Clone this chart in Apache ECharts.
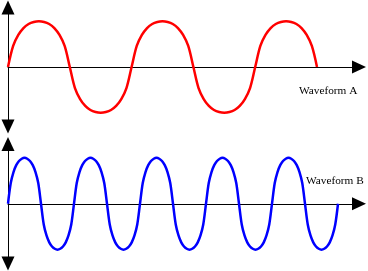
<!DOCTYPE html>
<html>
<head>
<meta charset="utf-8">
<script src="https://cdn.jsdelivr.net/npm/echarts@6/dist/echarts.min.js"></script>
<style>
html,body{margin:0;padding:0;background:#fff;}
#c{width:368px;height:271px;}
</style>
</head>
<body>
<div id="c"></div>
<script>
// Waveform A: 2.5 cycles of rounded half-waves (time units)
var timeA = [
  0, 0.515, 1.03, 1.545, 2.06, 2.575, 3.09, 3.605, 4.12, 4.635, 5.15, 5.665,
  6.18, 6.695, 7.21, 7.725, 8.24, 8.755, 9.27, 9.785, 10.3, 10.815, 11.33, 11.845,
  12.36, 12.875, 13.39, 13.905, 14.42, 14.935, 15.45, 15.965, 16.48, 16.995, 17.51, 18.025,
  18.54, 19.055, 19.57, 20.085, 20.6, 21.115, 21.63, 22.145, 22.66, 23.175, 23.69, 24.205,
  24.72, 25.235, 25.75, 26.265, 26.78, 27.295, 27.81, 28.325, 28.84, 29.355, 29.87, 30.385,
  30.9];
var valuesA = [
  0, 0.46, 0.7, 0.85, 0.94, 0.985, 1, 0.985, 0.94, 0.85, 0.7, 0.46,
  0, -0.46, -0.7, -0.85, -0.94, -0.985, -1, -0.985, -0.94, -0.85, -0.7, -0.46,
  0, 0.46, 0.7, 0.85, 0.94, 0.985, 1, 0.985, 0.94, 0.85, 0.7, 0.46,
  0, -0.46, -0.7, -0.85, -0.94, -0.985, -1, -0.985, -0.94, -0.85, -0.7, -0.46,
  0, 0.46, 0.7, 0.85, 0.94, 0.985, 1, 0.985, 0.94, 0.85, 0.7, 0.46,
  0];

// Waveform B: 5 cycles of rounded half-waves (time units)
var timeB = [
  0, 0.275, 0.55, 0.825, 1.1, 1.375, 1.65, 1.925, 2.2, 2.475, 2.75, 3.025,
  3.3, 3.575, 3.85, 4.125, 4.4, 4.675, 4.95, 5.225, 5.5, 5.775, 6.05, 6.325,
  6.6, 6.875, 7.15, 7.425, 7.7, 7.975, 8.25, 8.525, 8.8, 9.075, 9.35, 9.625,
  9.9, 10.175, 10.45, 10.725, 11, 11.275, 11.55, 11.825, 12.1, 12.375, 12.65, 12.925,
  13.2, 13.475, 13.75, 14.025, 14.3, 14.575, 14.85, 15.125, 15.4, 15.675, 15.95, 16.225,
  16.5, 16.775, 17.05, 17.325, 17.6, 17.875, 18.15, 18.425, 18.7, 18.975, 19.25, 19.525,
  19.8, 20.075, 20.35, 20.625, 20.9, 21.175, 21.45, 21.725, 22, 22.275, 22.55, 22.825,
  23.1, 23.375, 23.65, 23.925, 24.2, 24.475, 24.75, 25.025, 25.3, 25.575, 25.85, 26.125,
  26.4, 26.675, 26.95, 27.225, 27.5, 27.775, 28.05, 28.325, 28.6, 28.875, 29.15, 29.425,
  29.7, 29.975, 30.25, 30.525, 30.8, 31.075, 31.35, 31.625, 31.9, 32.175, 32.45, 32.725,
  33];
var valuesB = [
  0, 0.45, 0.69, 0.84, 0.93, 0.98, 1, 0.98, 0.93, 0.84, 0.69, 0.45,
  0, -0.45, -0.69, -0.84, -0.93, -0.98, -1, -0.98, -0.93, -0.84, -0.69, -0.45,
  0, 0.45, 0.69, 0.84, 0.93, 0.98, 1, 0.98, 0.93, 0.84, 0.69, 0.45,
  0, -0.45, -0.69, -0.84, -0.93, -0.98, -1, -0.98, -0.93, -0.84, -0.69, -0.45,
  0, 0.45, 0.69, 0.84, 0.93, 0.98, 1, 0.98, 0.93, 0.84, 0.69, 0.45,
  0, -0.45, -0.69, -0.84, -0.93, -0.98, -1, -0.98, -0.93, -0.84, -0.69, -0.45,
  0, 0.45, 0.69, 0.84, 0.93, 0.98, 1, 0.98, 0.93, 0.84, 0.69, 0.45,
  0, -0.45, -0.69, -0.84, -0.93, -0.98, -1, -0.98, -0.93, -0.84, -0.69, -0.45,
  0, 0.45, 0.69, 0.84, 0.93, 0.98, 1, 0.98, 0.93, 0.84, 0.69, 0.45,
  0, -0.45, -0.69, -0.84, -0.93, -0.98, -1, -0.98, -0.93, -0.84, -0.69, -0.45,
  0];

var labelA = 'Waveform A';
var labelB = 'Waveform B';
var timeMax = 35.1;
var ampLimit = 1.3;

function pairs(xs, ys) {
  return xs.map(function (x, i) { return [x, ys[i]]; });
}

function xAxisCfg(idx) {
  return {
    type: 'value', gridIndex: idx, min: 0, max: timeMax,
    axisLine: { show: true, onZero: true, lineStyle: { color: '#000', width: 1 },
      symbol: ['none', 'triangle'], symbolSize: [13, 14] },
    axisTick: { show: false }, axisLabel: { show: false }, splitLine: { show: false }
  };
}
function yAxisCfg(idx) {
  return {
    type: 'value', gridIndex: idx, min: -ampLimit, max: ampLimit,
    axisLine: { show: true, onZero: false, lineStyle: { color: '#000', width: 1 },
      symbol: ['triangle', 'triangle'], symbolSize: [13, 14] },
    axisTick: { show: false }, axisLabel: { show: false }, splitLine: { show: false }
  };
}

var chart = echarts.init(document.getElementById('c'), null, { renderer: 'canvas' });
chart.setOption({
  animation: false,
  backgroundColor: '#fff',
  grid: [
    { left: 8, right: 9, top: 7.5, height: 119 },
    { left: 8, right: 9, top: 144, height: 119.5 }
  ],
  xAxis: [xAxisCfg(0), xAxisCfg(1)],
  yAxis: [yAxisCfg(0), yAxisCfg(1)],
  series: [
    { type: 'line', xAxisIndex: 0, yAxisIndex: 0, data: pairs(timeA, valuesA),
      smooth: 0.33, showSymbol: false, lineStyle: { color: '#ff0000', width: 2.5 } },
    { type: 'line', xAxisIndex: 1, yAxisIndex: 1, data: pairs(timeB, valuesB),
      smooth: 0.33, showSymbol: false, lineStyle: { color: '#0000ff', width: 2.5 } }
  ],
  graphic: [
    { type: 'text', x: 299, y: 91, style: { text: labelA, fill: '#000',
      font: '11.3px "Liberation Serif", serif', verticalAlign: 'middle' } },
    { type: 'text', x: 306, y: 181, style: { text: labelB, fill: '#000',
      font: '11.3px "Liberation Serif", serif', verticalAlign: 'middle' } }
  ]
});
</script>
</body>
</html>
